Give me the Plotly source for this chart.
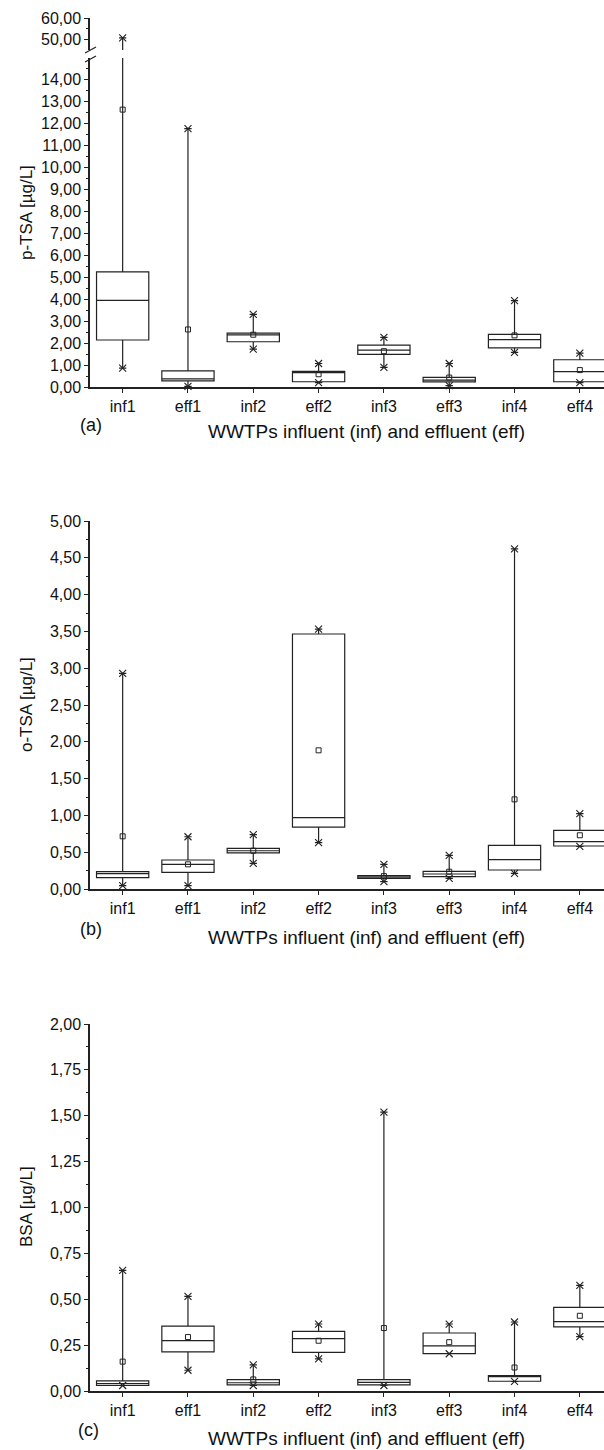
import plotly.graph_objects as go

W, H = 604, 1450
FONT = "Liberation Sans, Arial, sans-serif"
LC = "#222222"

cats = ["inf1", "eff1", "inf2", "eff2", "inf3", "eff3", "inf4", "eff4"]

# panel (a) p-TSA
a_q1 = [2.14, 0.28, 2.06, 0.24, 1.49, 0.23, 1.78, 0.24]
a_med = [3.94, 0.37, 2.37, 0.65, 1.68, 0.31, 2.16, 0.70]
a_q3 = [5.24, 0.73, 2.45, 0.71, 1.91, 0.44, 2.40, 1.24]
a_min = [0.86, 0.03, 1.72, 0.20, 0.89, 0.06, 1.58, 0.20]
a_max = [50.6, 11.76, 3.31, 1.07, 2.26, 1.07, 3.93, 1.54]
a_mean = [12.63, 2.62, 2.38, 0.58, 1.63, 0.43, 2.35, 0.77]

# panel (b) o-TSA
b_q1 = [0.154, 0.227, 0.49, 0.842, 0.145, 0.167, 0.258, 0.584]
b_med = [0.21, 0.335, 0.52, 0.969, 0.163, 0.204, 0.398, 0.643]
b_q3 = [0.235, 0.394, 0.553, 3.465, 0.181, 0.24, 0.593, 0.797]
b_min = [0.045, 0.045, 0.349, 0.63, 0.10, 0.145, 0.213, 0.58]
b_max = [2.93, 0.71, 0.738, 3.53, 0.335, 0.457, 4.62, 1.023]
b_mean = [0.716, 0.335, 0.52, 1.884, 0.175, 0.235, 1.218, 0.73]

# panel (c) BSA
c_q1 = [0.031, 0.213, 0.033, 0.21, 0.033, 0.204, 0.053, 0.349]
c_med = [0.041, 0.275, 0.045, 0.285, 0.047, 0.246, 0.079, 0.378]
c_q3 = [0.055, 0.354, 0.062, 0.325, 0.062, 0.316, 0.084, 0.456]
c_min = [0.03, 0.113, 0.03, 0.175, 0.03, 0.203, 0.052, 0.296]
c_max = [0.657, 0.516, 0.142, 0.365, 1.52, 0.365, 0.376, 0.576]
c_mean = [0.16, 0.294, 0.063, 0.274, 0.343, 0.266, 0.128, 0.41]

x_title = "WWTPs influent (inf) and effluent (eff)"


def px(x):
    return x / W


def py(y):
    return 1 - y / H


fig = go.Figure()


def add_panel(xa, ya, q1, med, q3, lo, hi, mean, clip=False):
    fig.add_trace(go.Box(
        x=cats, q1=q1, median=med, q3=q3, lowerfence=lo, upperfence=hi,
        xaxis=xa, yaxis=ya, fillcolor="white",
        line=dict(color=LC, width=1.2), whiskerwidth=0.14, width=0.8,
        boxpoints=False, showlegend=False, hoverinfo="skip"))
    fig.add_trace(go.Scatter(
        x=cats + cats, y=lo + hi, mode="markers", xaxis=xa, yaxis=ya,
        marker=dict(symbol="x-thin", size=7, color=LC,
                    line=dict(width=1.1, color=LC)),
        cliponaxis=clip, showlegend=False, hoverinfo="skip"))
    fig.add_trace(go.Scatter(
        x=cats, y=mean, mode="markers", xaxis=xa, yaxis=ya,
        marker=dict(symbol="square-open", size=5, color=LC,
                    line=dict(width=1, color=LC)),
        cliponaxis=clip, showlegend=False, hoverinfo="skip"))


add_panel("x", "y", a_q1, a_med, a_q3, a_min, a_max, a_mean)
add_panel("x", "y2", a_q1, a_med, a_q3, a_min, a_max, a_mean, clip=True)
add_panel("x2", "y3", b_q1, b_med, b_q3, b_min, b_max, b_mean)
add_panel("x3", "y4", c_q1, c_med, c_q3, c_min, c_max, c_mean)

tickfont = dict(family=FONT, size=16, color="#111")
common_x = dict(
    domain=[px(90), 1], type="category", categoryorder="array",
    categoryarray=cats, range=[-0.5, 7.37], showline=True, linecolor=LC,
    linewidth=1.5, ticks="outside", ticklen=4, tickcolor=LC, tickwidth=1.2,
    showgrid=False, zeroline=False, tickfont=tickfont, automargin=False,
    fixedrange=True)
common_y = dict(
    showline=True, linecolor=LC, linewidth=1.5, ticks="outside", ticklen=4,
    tickcolor=LC, tickwidth=1.2, showgrid=False, zeroline=False,
    tickfont=tickfont, tickformat=".2f", automargin=False, fixedrange=True)

fig.update_layout(
    width=W, height=H, autosize=False, template="none",
    margin=dict(l=0, r=0, t=0, b=0), paper_bgcolor="white",
    plot_bgcolor="white", separators=", ", boxmode="overlay",
    font=dict(family=FONT, color="#111"),
    xaxis=dict(common_x, anchor="y"),
    xaxis2=dict(common_x, anchor="y3"),
    xaxis3=dict(common_x, anchor="y4"),
    yaxis=dict(common_y, anchor="x", domain=[py(387), py(58)],
               range=[0, 14.98], tick0=0, dtick=1,
               minor=dict(tick0=0, dtick=0.5, ticks="outside", ticklen=2.5,
                          tickcolor=LC, showgrid=False)),
    yaxis2=dict(common_y, anchor="x", domain=[py(50), py(18)],
                range=[44.8, 60], tickmode="array", tickvals=[50, 60],
                minor=dict(tickmode="array", tickvals=[55], ticks="outside",
                           ticklen=2.5, tickcolor=LC, showgrid=False)),
    yaxis3=dict(common_y, anchor="x2", domain=[py(889), py(521)],
                range=[0, 5], tick0=0, dtick=0.5,
                minor=dict(tick0=0, dtick=0.25, ticks="outside", ticklen=2.5,
                           tickcolor=LC, showgrid=False)),
    yaxis4=dict(common_y, anchor="x3", domain=[py(1391), py(1024)],
                range=[0, 2], tick0=0, dtick=0.25,
                minor=dict(tick0=0, dtick=0.125, ticks="outside", ticklen=2.5,
                           tickcolor=LC, showgrid=False)),
)

# axis break marks for panel (a)
for y0, y1 in [(53, 47), (62, 56)]:
    fig.add_shape(type="line", xref="paper", yref="paper",
                  x0=px(85), y0=py(y0), x1=px(96), y1=py(y1),
                  line=dict(color=LC, width=1.2))

ann = []
for text, yc in [("p-TSA [µg/L]", 213), ("o-TSA [µg/L]", 705),
                 ("BSA [µg/L]", 1207)]:
    ann.append(dict(text=text, x=px(26), y=py(yc), xref="paper", yref="paper",
                    textangle=-90, showarrow=False, xanchor="center",
                    yanchor="middle", font=dict(family=FONT, size=17,
                                                color="#111")))
for text, xc, yc in [("(a)", 91, 425), ("(b)", 91, 929), ("(c)", 88, 1430)]:
    ann.append(dict(text=text, x=px(xc), y=py(yc), xref="paper", yref="paper",
                    showarrow=False, xanchor="center", yanchor="middle",
                    font=dict(family=FONT, size=18, color="#111")))
for yc in [432, 937, 1438]:
    ann.append(dict(text=x_title, x=px(366), y=py(yc), xref="paper",
                    yref="paper", showarrow=False, xanchor="center",
                    yanchor="middle", font=dict(family=FONT, size=19,
                                                color="#111")))
fig.update_layout(annotations=ann)

fig.write_html("out.html")
